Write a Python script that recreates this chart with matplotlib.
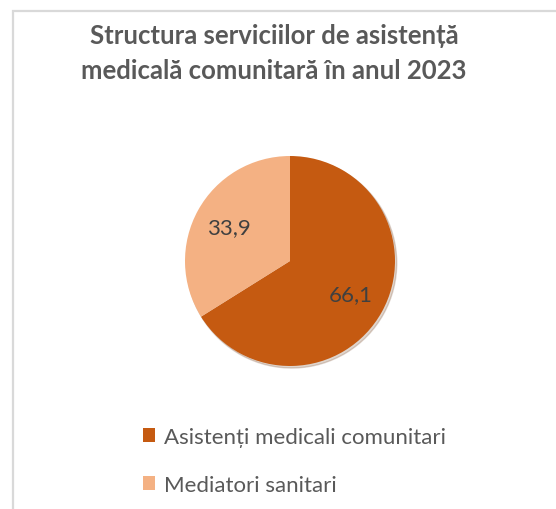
import matplotlib
matplotlib.use('Agg')
import matplotlib.pyplot as plt
from matplotlib.patches import Patch, Rectangle

# date
categorii = ['Asistenți medicali comunitari', 'Mediatori sanitari']
valori = [66.1, 33.9]
culori = ['#C55A11', '#F4B183']
titlu = 'Structura serviciilor de asistență\nmedicală comunitară în anul 2023'

plt.rcParams['font.family'] = ['Lato', 'DejaVu Sans']

fig = plt.figure(figsize=(5.56, 5.10), dpi=100)
fig.patch.set_facecolor('white')

# chenarul gri al graficului
fig.add_artist(Rectangle((13 / 556, -0.1), 1.2, 1 - 12 / 510 + 0.1,
                         transform=fig.transFigure, fill=False,
                         edgecolor='#D9D9D9', linewidth=1.6))

fig.text(274 / 556, 1 - 24 / 510, titlu, ha='center', va='top',
         fontsize=18.5, fontweight='bold', color='#595959', linespacing=1.55)

ax = fig.add_axes([185 / 556, 1 - 367 / 510, 210 / 556, 210 / 510])
wedges, texts, autotexts = ax.pie(
    valori, colors=culori, startangle=90, counterclock=False,
    autopct=lambda p: f'{p:.1f}'.replace('.', ','), pctdistance=0.66,
    textprops={'fontsize': 16, 'color': '#404040'},
    shadow={'ox': 0.012, 'oy': -0.014, 'shade': 0.5, 'alpha': 0.2},
)
ax.set_xlim(-1, 1)
ax.set_ylim(-1, 1)

handles = [Patch(facecolor=c, edgecolor='none') for c in culori]
fig.legend(handles, categorii, loc='upper left',
           bbox_to_anchor=(143 / 556, 1 - 428 / 510), frameon=False,
           fontsize=16, handlelength=0.55, handleheight=0.55,
           handletextpad=0.4, labelspacing=1.25, borderpad=0,
           borderaxespad=0, labelcolor='#595959')

fig.savefig('out.png', dpi=100)
